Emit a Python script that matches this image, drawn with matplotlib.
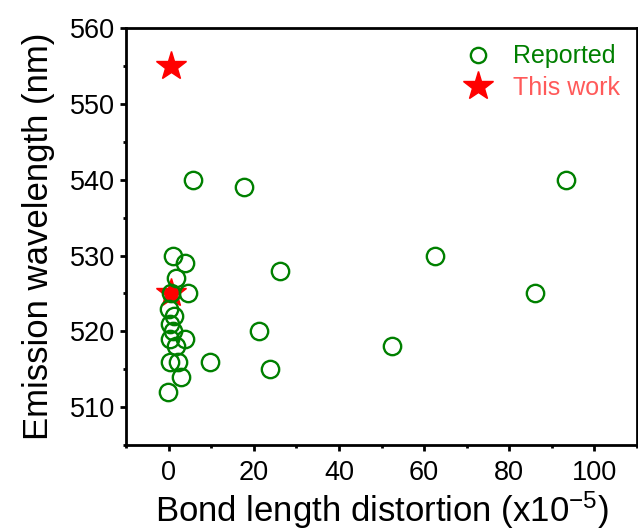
import matplotlib
matplotlib.use("Agg")
import matplotlib.pyplot as plt
from matplotlib.ticker import MultipleLocator

# Reported values (bond length distortion x1e-5, emission wavelength nm)
reported_x = [5.7, 17.6, 93.3, 0.9, 3.7, 26.2, 1.7, 62.5, 0.5, 4.5, 86.0,
              0.0, 1.1, 0.3, 0.9, 21.3, 0.2, 3.8, 1.6, 52.4, 0.3, 2.1, 9.7,
              2.9, 23.8, -0.1]
reported_y = [540, 539, 540, 530, 529, 528, 527, 530, 525, 525, 525,
              523, 522, 521, 520, 520, 519, 519, 518, 518, 516, 516, 516,
              514, 515, 512]

# This work
work_x = [0.5, 0.5]
work_y = [555, 525]

plt.rcParams["font.family"] = ["Liberation Sans", "DejaVu Sans"]
plt.rcParams["mathtext.fontset"] = "custom"
plt.rcParams["mathtext.rm"] = "Liberation Sans"
plt.rcParams["mathtext.it"] = "Liberation Sans"

fig = plt.figure(figsize=(6.38, 5.31), dpi=100)
ax = fig.add_axes([0.198, 0.162, 0.8, 0.785])

ax.plot(work_x, work_y, linestyle="none", marker="*", markersize=22,
        color="#ff0000", label="This work", zorder=2)
ax.plot(reported_x, reported_y, linestyle="none", marker="o", markersize=12.5,
        markerfacecolor="none", markeredgecolor="#008000", markeredgewidth=1.7,
        label="Reported", zorder=3)

ax.set_xlim(-10, 110)
ax.set_ylim(505, 560)
ax.xaxis.set_major_locator(MultipleLocator(20))
ax.xaxis.set_minor_locator(MultipleLocator(10))
ax.yaxis.set_major_locator(MultipleLocator(10))
ax.yaxis.set_minor_locator(MultipleLocator(5))

for s in ax.spines.values():
    s.set_linewidth(2.0)
ax.tick_params(which="major", direction="out", length=4, width=2.0, labelsize=19.5)
ax.tick_params(axis="x", which="major", pad=7)
ax.tick_params(axis="y", which="major", pad=4)
ax.tick_params(which="minor", direction="out", length=2.5, width=2.0)

ax.set_xlabel("Bond length distortion (x10$^{\\mathregular{-5}}$)", fontsize=25, labelpad=2)
ax.set_ylabel("Emission wavelength (nm)", fontsize=25, labelpad=11)

handles, labels = ax.get_legend_handles_labels()
leg = ax.legend(handles[::-1], labels[::-1], loc="upper right", frameon=False,
                fontsize=18, handletextpad=0.4, borderaxespad=0.25,
                labelspacing=0.3, labelcolor=["#007f00", "#ff5a5a"])
leg.legend_handles[0].set_markersize(11)

fig.savefig("out.png", dpi=100)
